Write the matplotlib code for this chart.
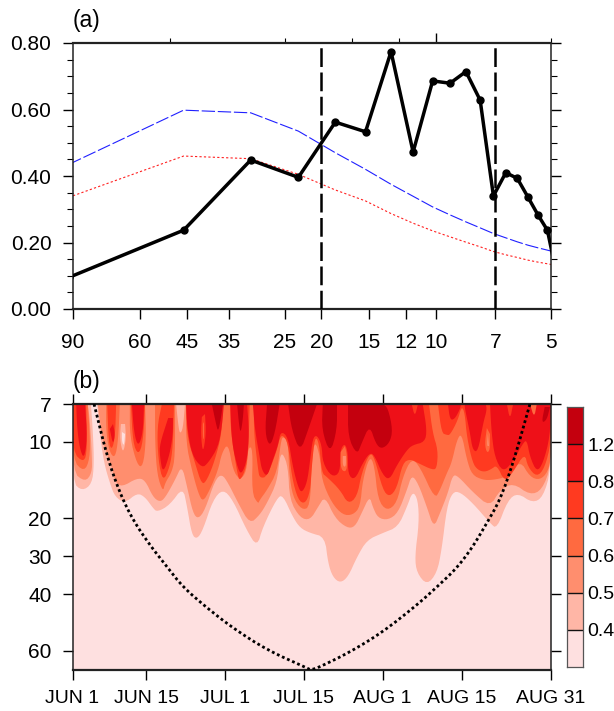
import matplotlib
matplotlib.use('Agg')
import matplotlib.pyplot as plt
from matplotlib.ticker import NullFormatter

plt.rcParams['font.family'] = ['Liberation Sans', 'DejaVu Sans']

W, H = 614, 711

# panel (a): power spectrum against period (days)
periods = [92, 46, 30.67, 23, 18.4, 15.33, 13.14, 11.5, 10.22, 9.2, 8.36, 7.67,
           7.08, 6.57, 6.13, 5.75, 5.41, 5.11, 4.84]
spectrum = [.095, .237, .448, .396, .562, .533, .774, .472, .686, .679, .714, .628,
            .340, .410, .393, .337, .283, .237, .107]
upper_limit = [.435, .598, .590, .535, .470, .420, .375, .339, .307, .283, .262, .244,
               .227, .214, .202, .192, .184, .177, .170]
red_noise = [.336, .460, .452, .405, .358, .325, .287, .258, .235, .217, .201, .187,
             .173, .163, .155, .147, .141, .136, .131]
period_ticks = [90, 60, 45, 35, 25, 20, 15, 12, 10, 7, 5]
top_short_ticks = [50, 25, 16.67, 12.5, 5]
top_long_ticks = [10]
band_lines = [20, 7]
power_ticks = [0, .2, .4, .6, .8]
power_minor = [.05, .1, .15, .25, .3, .35, .45, .5, .55, .65, .7, .75]

# panel (b): wavelet power, contour outlines as (day index, scale position)
day_ticks = [0, 14, 29, 44, 59, 74, 91]
day_labels = ['JUN 1', 'JUN 15', 'JUL 1', 'JUL 15', 'AUG 1', 'AUG 15', 'AUG 31']
scale_ticks = [0, 37.5, 114, 152, 190, 247]
scale_labels = ['7', '10', '20', '30', '40', '60']

level_04 = [
    [(0,0),(0,78),(1.8,87),(3.7,80),(4.1,60),(3.9,30),(3.5,0)],
    [(4.7,0),(5.2,30),(6,59),(7.1,79),(8.1,93),(10,99),(12.3,89),(13.8,93),(15.3,104),(16.1,108),
     (18.5,101),(21,83),(21.8,103),(22.7,131),(23.7,135),(24.8,126),(26.7,96),(28.6,85),(30.5,96),
     (33.1,126),(35.1,143),(36.2,123),(38.9,94),(40,91),(41.9,113),(43.3,124),(45.2,129),(48,133),
     (48.6,159),(49.5,173),(50.9,179),(52.4,173),(54.1,153),(56,136),(59,129),(61.9,123),(63.6,103),
     (64.7,87),(65.7,96),(65.9,119),(65.1,153),(65.5,169),(67.4,181),(69.3,169),(70.2,146),(71.2,103),
     (72.3,88),(73.7,88),(76.1,99),(79.4,119),(80.7,125),(82.8,96),(84.7,89),(87.5,99),(89.5,93),
     (91,66),(91,0)],
]
level_05 = [
    [(0,0),(0,68),(2.4,78),(3.7,69),(3.7,53),(3.3,16),(2.9,0)],
    [(4.8,0),(5.8,40),(7.5,63),(8.1,78),(9.4,83),(12.3,74),(13.8,76),(15.3,93),(16.6,98),(17.6,94),
     (19.5,76),(20.8,61),(21.8,83),(22.9,109),(23.9,115),(25.2,106),(27.1,76),(28.4,70),(29.6,79),
     (31.5,99),(33.7,120),(35.6,111),(37,99),(38.9,78),(39.4,53),(40,49),(41,63),(41.3,96),(43.3,114),
     (45.2,116),(46.7,103),(48,92),(49.9,114),(52.2,124),(53.7,123),(55,109),(56.5,92),(57.1,103),
     (58.1,114),(60,116),(61.9,109),(63.6,86),(64.5,71),(65.7,79),(67.4,103),(68.7,124),(69.9,109),
     (71.4,89),(72.3,71),(73.3,72),(76.1,88),(79.4,103),(81.3,86),(83.8,79),(87,91),(89.3,86),
     (91,62),(91,0)],
]
level_06 = [
    [(0,0),(0,56),(2.2,68),(3.3,55),(3.3,30),(2.9,0)],
    [(6.4,0),(6.4,29),(7.1,49),(8.1,54),(8.7,36),(9,0)],
    [(10.9,0),(10.9,33),(12.3,61),(13.4,63),(14,36),(13.8,0)],
    [(15.7,0),(15.7,39),(16.1,71),(17.2,88),(17.6,79),(18.9,68),(19.5,53),(19.5,0)],
    [(21.6,0),(21.6,39),(22.7,66),(23.9,89),(24.8,98),(26.1,86),(27.7,66),(28.4,49),(29.6,39),
     (30.5,66),(31.8,76),(33.1,68),(33.4,43),(34.3,44),(34.1,89),(35.3,100),(35.6,96),(37,86),(38.9,68),
     (39.6,39),(40,32),(41,38),(41.2,69),(41.9,93),(43.6,106),(45.2,103),(45.5,56),(46.1,36),(47.1,53),
     (47.4,76),(49.3,99),(51.4,111),(53.3,111),(54.7,103),(55.2,76),(56.5,52),(57.4,61),(58.1,96),
     (59.8,107),(61.7,99),(62.8,73),(64.5,54),(66.1,63),(68.9,95),(69.9,86),(71.2,69),(72.1,59),
     (73.1,36),(74,29),(75,56),(76,71),(78.1,76),(79.9,76),(82.6,73),(85.1,56),(87,73),(88.9,76),
     (90.4,68),(91,53),(91,0)],
]
level_07 = [
    [(0,0),(0,48),(2.2,59),(2.8,45),(2.6,0)],
    [(6.6,0),(6.9,39),(7.5,46),(8.1,33),(8.3,0)],
    [(11.1,0),(11.5,39),(12.5,51),(13.4,39),(13.8,0)],
    [(17,0),(16.1,23),(16.3,56),(17.2,78),(18.5,63),(19.1,43),(19.3,0)],
    [(21.6,0),(21.8,33),(23.3,59),(24.6,81),(25.6,76),(27.1,56),(28.4,29),(28.6,0)],
    [(30,0),(30.1,29),(31.3,68),(31.8,78),(33.1,63),(33.5,39),(33.7,0)],
    [(34.5,0),(34.5,29),(35.3,66),(35.6,74),(37,73),(38.9,46),(39.4,34),(40,31),(41,39),(41.7,73),
     (42.9,96),(44.2,100),(45.2,88),(45.5,63),(46.1,32),(46.9,39),(47.4,69),(48.4,73),(50.9,86),(52.4,100),
     (54.1,93),(55,69),(56.5,49),(57.4,53),(59,86),(60.3,93),(61.7,84),(62.8,59),(64.2,55),(65.7,59),
     (68.5,66),(69.3,64),(69.5,46),(68.5,29),(67.8,0)],
    [(69.5,0),(70.2,29),(71.2,31),(71.8,31),(73.3,16),(74,2),(74.6,9),(75,33),(76.1,59),(77.1,66),
     (78.4,68),(79.7,65),(80.7,61),(82.2,78),(83.8,68),(86,49),(86.6,63),(88.3,73),(89.8,64),(91,39),(91,0)],
]
level_08 = [
    [(0.7,0),(0.9,25),(1.4,45),(2.2,55),(2.8,35),(2.4,0)],
    [(7.1,25),(7.7,41),(8.1,30),(7.7,20)],
    [(11.3,0),(11.7,29),(12.5,43),(13.4,29),(13.6,0)],
    [(18.2,14),(16.6,40),(16.6,52),(17.2,70),(18.5,50),(19.1,30),(19.1,14)],
    [(21.6,0),(21.8,23),(22.7,51),(24.6,64),(25.8,59),(27.7,43),(28.4,23),(28.8,0)],
    [(30,0),(30.3,39),(31.5,66),(32.2,70),(33.2,56),(33.6,29),(33.2,0)],
    [(34.3,0),(34.7,26),(35.6,53),(36,66),(37,73),(37.9,59),(39.1,41),(39.6,27),(41,33),(41.9,63),
     (42.9,83),(43.6,89),(44.6,79),(45.2,56),(45.7,34),(46.5,31),(47.4,41),(47.6,59),(49.3,73),(50.9,69),
     (50.9,46),(51.8,39),(52.4,49),(52.4,71),(53.7,76),(55.2,59),(56.5,49),(57.4,51),(59,71),(60.3,76),
     (61.7,61),(63.6,46),(64.7,41),(67,38),(67.4,26),(66.6,0)],
    [(71.4,0),(71.8,16),(72.7,15),(73.7,5),(73.9,0)],
    [(74.6,0),(74.6,4),(75.6,29),(76.1,46),(77.1,48),(78.1,19),(78.8,6),(78.6,0)],
    [(79.4,0),(79.7,29),(80.3,53),(81.8,68),(83.6,59),(85.7,39),(86.4,36),(87,53),(88.3,68),(89.5,59),
     (90.8,33),(91,0)],
]
level_12 = [
    [(26.5,0),(27.3,20),(27.7,28),(28.2,15),(28.6,0)],
    [(31.3,0),(31.7,22),(32,29),(32.4,15),(32.6,0)],
    [(37,0),(36.6,29),(37.5,43),(38.5,29),(39.4,0)],
    [(41,0),(41.7,26),(43.3,48),(44.8,26),(46.5,0)],
    [(47.6,0),(47.4,26),(49,50),(50.3,26),(50.3,0)],
    [(52.4,0),(52.4,33),(54.1,51),(55,39),(56.5,21),(57.7,40),(58.8,45),(60.3,39),(60.9,26),(60,4),(59,0)],
    [(89.8,3),(89.2,19),(90.2,16),(90.8,3)],
]
# weak patches enclosed by stronger power: (colour band, outline)
islands = [
    (1, [(9.2,20),(9,35),(9.6,50),(10.2,35),(10,20)]),
    (0, [(9.4,28),(9.4,38),(9.8,42),(10,30)]),
    (1, [(19.7,0),(20.1,20),(20.4,30),(21,25),(21.4,0)]),
    (4, [(24.6,13),(24.4,30),(24.8,50),(25.4,30),(25.2,10)]),
    (3, [(24.8,20),(24.8,35),(25,35),(25,18)]),
    (3, [(51,48),(51,66),(52.2,68),(52.2,50),(51.8,42)]),
    (2, [(51.4,52),(51.4,62),(52,63),(52,52)]),
    (3, [(78.8,24),(78.4,40),(78.8,49),(79.4,46),(79.4,30)]),
    (2, [(79,30),(78.8,42),(79.2,42)]),
    (4, [(64.5,0),(65.1,13),(65.7,0)]),
    (4, [(82.6,0),(83.2,16),(83.8,0)]),
    (3, [(87,0),(87.8,14),(88.3,0)]),
]
coi_days = [4.1, 6.6, 9, 11.5, 14.7, 18, 21, 25.6, 30.5, 37, 44.6, 45.3, 47, 52.8, 59, 65.5,
            69.3, 73.1, 76.1, 78.8, 81.3, 83.8, 87]
coi_scale = [0, 53, 89, 116, 141, 163, 183, 204, 224, 246, 264, 266, 263, 248, 228, 201,
             183, 164, 143, 119, 96, 59, 0]

band_colors = ['#FEE0E0', '#FFB6A6', '#FF8E6E', '#FF6A40', '#FF3A20', '#EE1018', '#C4000E']
cbar_labels = ['0.4', '0.5', '0.6', '0.7', '0.8', '1.2']


def add_axes_px(fig, left, top, right, bottom):
    return fig.add_axes([left / W, 1 - bottom / H, (right - left) / W, (bottom - top) / H])


def round_corners(outline, passes=2):
    # contour lines in the original are smooth, so cut the corners of the read vertices
    pts = list(outline)
    for _ in range(passes):
        new = [pts[0]]
        for (x0, y0), (x1, y1) in zip(pts[:-1], pts[1:]):
            new.append((0.75 * x0 + 0.25 * x1, 0.75 * y0 + 0.25 * y1))
            new.append((0.25 * x0 + 0.75 * x1, 0.25 * y0 + 0.75 * y1))
        new.append(pts[-1])
        pts = new
    return pts


def style_axes(ax):
    for side in ['top', 'bottom']:
        ax.spines[side].set_linewidth(1.6)
        ax.spines[side].set_color('#222222')
    for side in ['left', 'right']:
        ax.spines[side].set_linewidth(1.1)
        ax.spines[side].set_color('#222222')


def plot_spectrum(ax):
    ax.set_xscale('log')
    ax.plot(periods, upper_limit, color='#2020ff', lw=0.8, dashes=(12, 2.5), zorder=2)
    ax.plot(periods, red_noise, color='#ff2020', lw=0.8, dashes=(2, 2), zorder=2)
    ax.plot(periods, spectrum, color='black', lw=2.5, marker='o', ms=5, zorder=3)
    for p in band_lines:
        ax.axvline(p, color='black', lw=1.8, dashes=(7.5, 2.2), zorder=4)
    ax.set_xlim(90, 5)
    ax.set_ylim(0, 0.8)
    ax.set_xticks(period_ticks, labels=[str(p) for p in period_ticks])
    ax.set_xticks([], minor=True)
    ax.set_yticks(power_ticks, labels=['%.2f' % v for v in power_ticks])
    ax.set_yticks(power_minor, minor=True)
    ax.tick_params(axis='y', which='major', direction='out', length=7.2, width=1, right=True,
                   labelsize=15, pad=8)
    ax.tick_params(axis='y', which='minor', direction='out', length=4.3, width=0.8, right=True)
    ax.tick_params(axis='x', which='major', direction='out', length=7.2, width=1,
                   labelsize=15, pad=10)
    top = ax.secondary_xaxis('top')
    top.set_xticks(top_short_ticks)
    top.set_xticks(top_long_ticks, minor=True)
    top.xaxis.set_major_formatter(NullFormatter())
    top.xaxis.set_minor_formatter(NullFormatter())
    top.tick_params(which='major', direction='out', length=3.6, width=0.8)
    top.tick_params(which='minor', direction='out', length=7.2, width=1)
    top.spines['top'].set_visible(False)
    style_axes(ax)
    ax.text(0, 1.04, '(a)', transform=ax.transAxes, fontsize=16.5, va='bottom')


def plot_wavelet(ax):
    ax.set_facecolor(band_colors[0])
    for i, level in enumerate([level_04, level_05, level_06, level_07, level_08, level_12]):
        for outline in level:
            x, y = zip(*round_corners(outline))
            ax.fill(x, y, color=band_colors[i + 1], lw=0, zorder=1 + i * 0.1)
    for band, outline in islands:
        x, y = zip(*round_corners(outline))
        ax.fill(x, y, color=band_colors[band], lw=0, zorder=2)
    x, y = zip(*round_corners(list(zip(coi_days, coi_scale))))
    ax.plot(x, y, color='black', lw=2, dashes=(1, 1), zorder=3)
    ax.set_xlim(0, 91)
    ax.set_ylim(266, 0)
    ax.set_xticks(day_ticks, labels=day_labels)
    ax.set_yticks(scale_ticks, labels=scale_labels)
    ax.tick_params(axis='x', direction='out', length=7.2, width=1, top=True, labelsize=14, pad=7)
    ax.tick_params(axis='y', direction='out', length=7.2, width=1, right=True, labelsize=15, pad=8)
    style_axes(ax)
    ax.text(0, 1.04, '(b)', transform=ax.transAxes, fontsize=16.5, va='bottom')


def plot_colorbar(ax):
    n = len(band_colors)
    for i, c in enumerate(band_colors):
        ax.barh(i, 1, height=1, left=0, color=c, lw=0)
    ax.set_xlim(0, 1)
    ax.set_ylim(-0.5, n - 0.5)
    ax.set_xticks([])
    ax.set_yticks([i + 0.5 for i in range(n - 1)], labels=cbar_labels)
    ax.yaxis.tick_right()
    ax.tick_params(axis='y', length=0, labelsize=14, pad=3)
    for i in range(n - 1):
        ax.axhline(i + 0.5, color='#111111', lw=1)
    for s in ax.spines.values():
        s.set_linewidth(0.9)
        s.set_color('#555555')


def plot():
    fig = plt.figure(figsize=(W / 100, H / 100), dpi=100)
    plot_spectrum(add_axes_px(fig, 72.5, 43, 551, 309))
    plot_wavelet(add_axes_px(fig, 72.5, 404, 551, 670))
    plot_colorbar(add_axes_px(fig, 567, 407, 583, 667))
    fig.savefig('out.png', dpi=100)


if __name__ == '__main__':
    plot()
